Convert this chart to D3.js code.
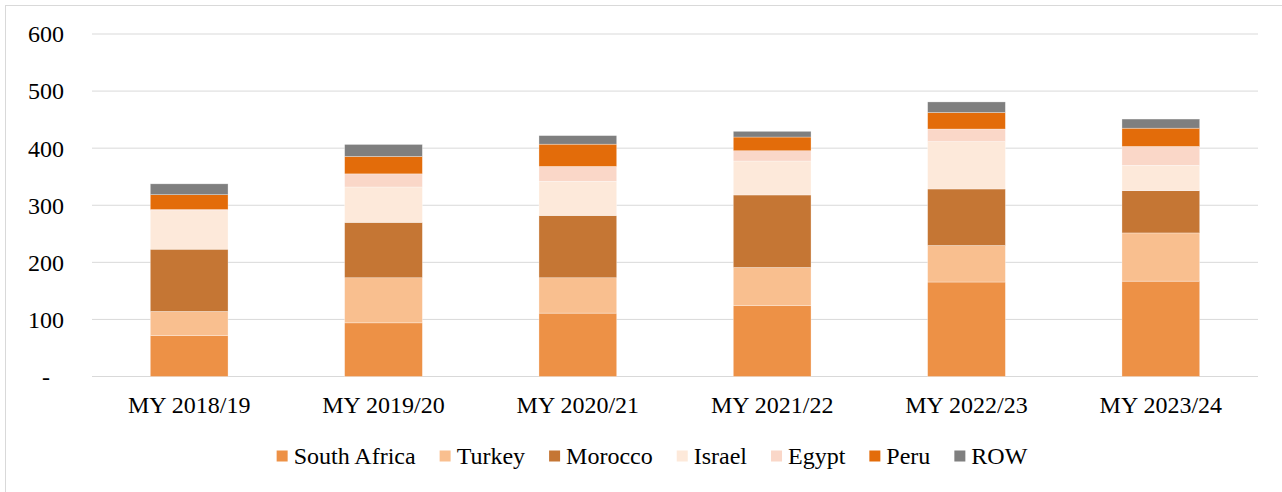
<!DOCTYPE html>
<html>
<head>
<meta charset="utf-8">
<script src="https://cdn.jsdelivr.net/npm/d3@7"></script>
<style>
  body { margin: 0; background: #fff; }
  svg { display: block; }
</style>
</head>
<body>
<svg id="chart" width="1282" height="492"></svg>
<script>
const categories = ["MY 2018/19", "MY 2019/20", "MY 2020/21", "MY 2021/22", "MY 2022/23", "MY 2023/24"];
const seriesNames = ["South Africa", "Turkey", "Morocco", "Israel", "Egypt", "Peru", "ROW"];
const southAfrica = [71.5, 94, 111, 124, 165.5, 167];
const turkey = [42.5, 79, 62, 67, 64, 84.5];
const morocco = [109, 97, 109, 127, 99, 74];
const israel = [67.5, 62, 60, 59.5, 83, 44.5];
const egypt = [2, 23, 26, 18, 22, 33];
const peru = [26, 30.5, 39, 24, 29, 32];
const row = [19, 21, 15, 10, 18.5, 16];
const yTicks = [0, 100, 200, 300, 400, 500, 600];
const colors = ["#ed9146", "#f9bf8f", "#c57634", "#fde9da", "#fad7c8", "#e36c0a", "#7f7f7f"];

const FONT = "'Liberation Serif', 'Times New Roman', serif";

const seriesValues = [southAfrica, turkey, morocco, israel, egypt, peru, row];
const table = categories.map((c, i) => {
  const o = { cat: c };
  seriesNames.forEach((s, j) => (o[s] = seriesValues[j][i]));
  return o;
});

const svg = d3.select("#chart");

// outer chart border (right/bottom run off the picture)
svg.append("rect")
  .attr("x", 5.5).attr("y", 5.5)
  .attr("width", 1300).attr("height", 520)
  .attr("fill", "none").attr("stroke", "#d9d9d9");

const x = d3.scaleBand().domain(categories).range([92, 1258]).paddingInner(0.6).paddingOuter(0.3);
const y = d3.scaleLinear().domain([0, 600]).range([376.5, 34]);

// gridlines
svg.append("g")
  .selectAll("line")
  .data(yTicks)
  .join("line")
  .attr("x1", 92).attr("x2", 1258)
  .attr("y1", (d) => y(d)).attr("y2", (d) => y(d))
  .attr("stroke", "#d9d9d9")
  .attr("stroke-width", 1);

// y labels
svg.append("g")
  .selectAll("text")
  .data(yTicks)
  .join("text")
  .attr("x", (d) => (d === 0 ? 50 : 64))
  .attr("y", (d) => y(d))
  .attr("dy", "0.35em")
  .attr("text-anchor", "end")
  .style("font-family", FONT)
  .style("font-size", "24px")
  .style("fill", "#000")
  .text((d) => (d === 0 ? "-" : d));

// bars
const stacked = d3.stack().keys(seriesNames)(table);
svg.append("g")
  .selectAll("g")
  .data(stacked)
  .join("g")
  .attr("fill", (d, i) => colors[i])
  .selectAll("rect")
  .data((d) => d)
  .join("rect")
  .attr("x", (d) => x(d.data.cat))
  .attr("width", x.bandwidth())
  .attr("y", (d) => y(d[1]))
  .attr("height", (d) => y(d[0]) - y(d[1]))
  .attr("stroke", "#ffffff")
  .attr("stroke-opacity", 0.5)
  .attr("stroke-width", 0.6);

// x labels
svg.append("g")
  .selectAll("text")
  .data(categories)
  .join("text")
  .attr("x", (d) => x(d) + x.bandwidth() / 2)
  .attr("y", 413)
  .attr("text-anchor", "middle")
  .style("font-family", FONT)
  .style("font-size", "24px")
  .style("fill", "#000")
  .text((d) => d);

// legend
const legend = svg.append("g");
const items = legend.selectAll("g")
  .data(seriesNames)
  .join("g");
items.append("rect")
  .attr("width", 11).attr("height", 11)
  .attr("y", 450.5)
  .attr("fill", (d, i) => colors[i]);
items.append("text")
  .attr("x", 17)
  .attr("y", 463.5)
  .style("font-family", FONT)
  .style("font-size", "24px")
  .style("fill", "#000")
  .text((d) => d);

const gap = 24;
const widths = items.nodes().map((n) => 17 + d3.select(n).select("text").node().getComputedTextLength());
const total = d3.sum(widths) + gap * (widths.length - 1);
let cursor = 652 - total / 2;
items.attr("transform", (d, i) => {
  const t = `translate(${cursor},0)`;
  cursor += widths[i] + gap;
  return t;
});
</script>
</body>
</html>
